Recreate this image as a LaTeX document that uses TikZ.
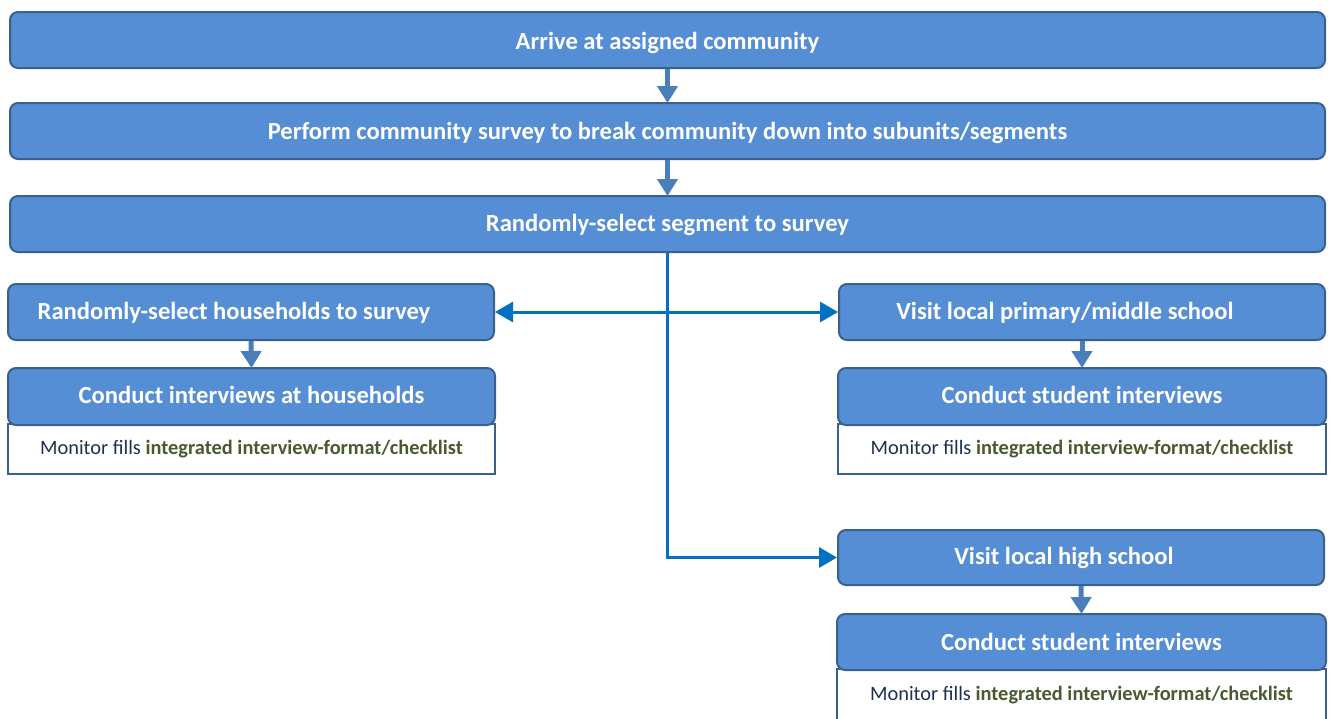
\documentclass[tikz,border=0pt]{standalone}
\usepackage{fontspec}
\setmainfont{Carlito}
\usetikzlibrary{arrows.meta}
\definecolor{boxfill}{HTML}{558ED5}
\definecolor{boxline}{HTML}{3A6090}
\definecolor{flowarrow}{HTML}{4A7EBB}
\definecolor{linkblue}{HTML}{0070C0}
\definecolor{navytext}{HTML}{1F3050}
\definecolor{olivetext}{HTML}{4A5A30}
\tikzset{
  bluebox/.style={draw=boxline, line width=2pt, fill=boxfill, rounded corners=8pt,
    text=white, font=\bfseries\fontsize{24.6}{28}\selectfont, inner sep=0pt, anchor=north west},
  notebox/.style={draw=boxline, line width=2pt, fill=white, inner sep=0pt, anchor=north west,
    font=\fontsize{20.4}{24}\selectfont, text=navytext},
  smallarrow/.style={draw=flowarrow, line width=5pt, -{Triangle[length=17pt,width=20pt]}, shorten >=-1pt},
  linkarrow/.style={draw=linkblue, line width=3pt}
}
\newcommand{\leftpad}[1]{#1\kern34pt}
\newcommand{\vshift}[2]{\raisebox{#1}[\height][\depth]{#2}}
\begin{document}
\begin{tikzpicture}[x=1pt,y=-1pt]
\useasboundingbox (0,0) rectangle (1330,718);
% top chain
\node[bluebox, minimum width=1315pt, minimum height=56pt] (arrive) at (9,11) {\vshift{-2.5pt}{Arrive at assigned community}};
\node[bluebox, minimum width=1315pt, minimum height=56pt] (perform) at (9,102) {\vshift{-2pt}{Perform community survey to break community down into subunits/segments}};
\node[bluebox, minimum width=1315pt, minimum height=56pt] (seg) at (9,195) {\vshift{-1pt}{Randomly-select segment to survey}};
% left branch
\node[bluebox, minimum width=486pt, minimum height=56pt] (hh) at (7,283) {\vshift{-1pt}{\leftpad{Randomly-select households to survey}}};
\node[notebox, minimum width=487pt, minimum height=50pt] (hhnote) at (7,423) {Monitor fills \textbf{\color{olivetext}integrated interview-format/checklist}};
\node[bluebox, minimum width=487pt, minimum height=57pt] (hhc) at (7,367) {\vshift{1.5pt}{Conduct interviews at households}};
% right branch
\node[bluebox, minimum width=486pt, minimum height=56pt] (prim) at (838,283) {\vshift{-1pt}{\leftpad{Visit local primary/middle school}}};
\node[notebox, minimum width=488pt, minimum height=50pt] (primnote) at (837,423) {Monitor fills \textbf{\color{olivetext}integrated interview-format/checklist}};
\node[bluebox, minimum width=488pt, minimum height=57pt] (primc) at (837,367) {\vshift{1.5pt}{Conduct student interviews}};
% high school
\node[bluebox, minimum width=486pt, minimum height=55pt] (high) at (837,529) {\leftpad{Visit local high school}};
\node[notebox, minimum width=489pt, minimum height=52pt] (highnote) at (836,668) {Monitor fills \textbf{\color{olivetext}integrated interview-format/checklist}};
\node[bluebox, minimum width=489pt, minimum height=56pt] (highc) at (836,613) {Conduct student interviews};
% arrows
\draw[smallarrow] (arrive.south) -- (perform.north);
\draw[smallarrow] (perform.south) -- (seg.north);
\draw[smallarrow] (hh.south) -- (hhc.north);
\draw[smallarrow] (prim.south) -- (primc.north);
\draw[smallarrow] (high.south) -- (highc.north);
\draw[linkarrow, {Triangle[length=18pt,width=20pt]}-{Triangle[length=18pt,width=20pt]}] (hh.east) -- (prim.west);
\draw[linkarrow, -{Triangle[length=18pt,width=20pt]}] (seg.south) |- (high.west);
\end{tikzpicture}
\end{document}
